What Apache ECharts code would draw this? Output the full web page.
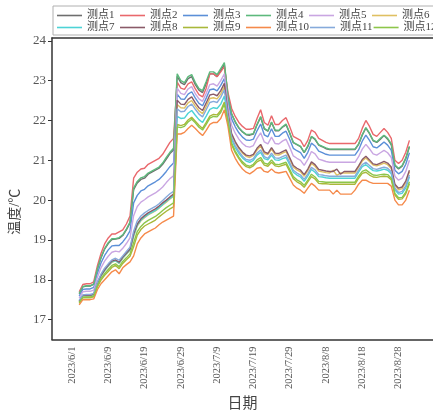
<!DOCTYPE html>
<html>
<head>
<meta charset="utf-8">
<script src="https://cdn.jsdelivr.net/npm/echarts@6/dist/echarts.min.js"></script>
<style>
html, body { margin: 0; padding: 0; background: #fff; }
#chart { width: 433px; height: 417px; }
</style>
</head>
<body>
<div id="chart"></div>
<script>
// x axis: one category per reading, date label every 10th
var tickLabels = ['2023/6/1', '2023/6/9', '2023/6/19', '2023/6/29', '2023/7/9',
                  '2023/7/19', '2023/7/29', '2023/8/8', '2023/8/18', '2023/8/28'];
var firstTick = 5;
var tickStep = 10;
var nCat = 105;
var dataStart = 7;
var yTicks = [17, 18, 19, 20, 21, 22, 23, 24];

var names = ['测点1', '测点2', '测点3', '测点4', '测点5', '测点6',
             '测点7', '测点8', '测点9', '测点10', '测点11', '测点12'];
var colors = ['#6e6e6e', '#e9686c', '#5b8fd8', '#5db97c', '#c9a6e2', '#dfc062',
              '#4dd3d6', '#8a5a68', '#a9b83a', '#f58a4b', '#86aadb', '#8dc64a'];

var s1 = [17.65,17.82,17.84,17.84,17.89,18.26,18.55,18.77,18.91,19.01,19.02,19.04,19.11,19.25,19.43,20.26,20.43,20.52,20.55,20.65,20.70,20.75,20.80,20.90,21.03,21.17,21.26,
  23.11,22.95,22.90,23.05,23.10,22.90,22.76,22.70,22.93,23.17,23.17,23.10,23.25,23.40,
  22.59,22.16,21.96,21.81,21.71,21.64,21.63,21.66,21.89,22.08,21.79,21.73,21.95,21.74,21.74,21.83,21.89,21.68,21.44,21.39,21.34,21.19,21.34,21.59,21.52,21.38,21.34,21.29,
  21.27,21.27,21.27,21.27,21.27,21.27,21.27,21.27,21.40,21.63,21.81,21.67,21.49,21.45,21.53,21.62,21.53,21.39,20.87,20.78,20.85,21.04,21.34];
var s2 = [17.70,17.88,17.90,17.90,17.95,18.35,18.66,18.90,19.05,19.15,19.15,19.20,19.25,19.40,19.60,20.55,20.70,20.78,20.80,20.90,20.95,21.00,21.05,21.15,21.30,21.45,21.55,
  22.96,22.81,22.78,22.92,22.97,22.79,22.65,22.59,22.81,23.17,23.17,23.10,23.22,23.35,
  22.70,22.30,22.10,21.95,21.85,21.78,21.78,21.80,22.05,22.27,21.95,21.88,22.12,21.90,21.90,22.00,22.07,21.85,21.60,21.55,21.50,21.34,21.50,21.76,21.70,21.55,21.50,21.45,
  21.42,21.42,21.42,21.42,21.42,21.42,21.42,21.42,21.55,21.80,22.00,21.85,21.65,21.60,21.70,21.80,21.70,21.55,21.00,20.92,21.00,21.20,21.50];
var s3 = [17.59,17.76,17.77,17.77,17.81,18.16,18.42,18.61,18.75,18.85,18.86,18.86,18.95,19.07,19.23,19.93,20.12,20.23,20.27,20.36,20.41,20.46,20.52,20.61,20.72,20.84,20.93,
  22.66,22.54,22.53,22.66,22.72,22.56,22.43,22.37,22.56,22.77,22.79,22.74,22.88,23.05,
  22.49,22.04,21.84,21.69,21.58,21.51,21.50,21.53,21.74,21.91,21.64,21.59,21.79,21.60,21.60,21.68,21.73,21.53,21.30,21.24,21.19,21.05,21.20,21.43,21.36,21.23,21.19,21.15,
  21.13,21.13,21.13,21.13,21.13,21.13,21.13,21.13,21.26,21.48,21.63,21.50,21.34,21.31,21.38,21.46,21.38,21.25,20.75,20.66,20.72,20.90,21.19];
var s4 = [17.66,17.83,17.85,17.85,17.89,18.27,18.56,18.78,18.93,19.03,19.03,19.06,19.13,19.27,19.45,20.30,20.47,20.56,20.59,20.68,20.73,20.78,20.83,20.93,21.07,21.20,21.30,
  23.17,23.00,22.95,23.10,23.15,22.95,22.80,22.75,22.98,23.22,23.22,23.15,23.30,23.45,
  22.60,22.17,21.97,21.82,21.72,21.65,21.65,21.67,21.90,22.10,21.80,21.74,21.96,21.76,21.75,21.84,21.91,21.69,21.45,21.40,21.35,21.20,21.36,21.60,21.54,21.39,21.35,21.31,
  21.28,21.28,21.28,21.28,21.28,21.28,21.28,21.28,21.41,21.64,21.82,21.68,21.50,21.46,21.55,21.63,21.55,21.41,20.88,20.80,20.87,21.06,21.35];
var s5 = [17.54,17.70,17.71,17.71,17.74,18.06,18.30,18.47,18.59,18.69,18.72,18.70,18.79,18.91,19.05,19.61,19.84,19.95,20.01,20.08,20.13,20.18,20.25,20.33,20.44,20.54,20.61,
  22.81,22.68,22.65,22.79,22.85,22.67,22.54,22.48,22.68,22.90,22.92,22.86,23.00,23.17,
  22.36,21.88,21.68,21.53,21.42,21.35,21.33,21.37,21.55,21.69,21.46,21.41,21.58,21.42,21.41,21.48,21.53,21.33,21.11,21.05,21.00,20.87,21.02,21.22,21.16,21.03,21.00,20.97,
  20.95,20.95,20.95,20.95,20.95,20.95,20.95,20.95,21.09,21.28,21.40,21.29,21.16,21.13,21.19,21.25,21.19,21.07,20.60,20.50,20.55,20.72,21.00];
var s6 = [17.45,17.60,17.60,17.60,17.63,17.90,18.09,18.23,18.34,18.44,18.48,18.41,18.54,18.64,18.74,19.09,19.35,19.48,19.56,19.63,19.68,19.73,19.80,19.88,19.95,20.03,20.09,
  22.40,22.32,22.31,22.44,22.50,22.36,22.24,22.17,22.35,22.55,22.57,22.54,22.66,22.85,
  22.16,21.64,21.44,21.29,21.18,21.10,21.07,21.12,21.26,21.36,21.17,21.14,21.28,21.14,21.13,21.18,21.22,21.03,20.83,20.76,20.71,20.60,20.74,20.92,20.85,20.73,20.71,20.69,
  20.68,20.75,20.62,20.68,20.68,20.68,20.68,20.68,20.83,20.98,21.06,20.97,20.88,20.86,20.89,20.93,20.89,20.79,20.37,20.26,20.29,20.44,20.71];
var s7 = [17.46,17.60,17.60,17.60,17.63,17.91,18.10,18.23,18.35,18.45,18.48,18.42,18.55,18.65,18.75,19.11,19.37,19.50,19.58,19.64,19.69,19.74,19.81,19.89,19.97,20.04,20.11,
  22.10,22.05,22.06,22.18,22.25,22.13,22.02,21.95,22.11,22.28,22.32,22.30,22.41,22.61,
  22.07,21.52,21.32,21.17,21.06,20.98,20.95,21.00,21.13,21.20,21.04,21.01,21.13,21.01,21.00,21.04,21.07,20.89,20.70,20.63,20.58,20.47,20.61,20.77,20.70,20.59,20.58,20.56,
  20.55,20.55,20.55,20.55,20.55,20.55,20.55,20.55,20.70,20.84,20.89,20.81,20.74,20.73,20.75,20.78,20.75,20.66,20.26,20.15,20.17,20.31,20.58];
var s8 = [17.46,17.61,17.61,17.61,17.64,17.92,18.11,18.25,18.37,18.47,18.50,18.44,18.57,18.67,18.77,19.15,19.40,19.53,19.61,19.68,19.73,19.78,19.85,19.93,20.00,20.08,20.15,
  22.51,22.41,22.40,22.53,22.59,22.44,22.32,22.25,22.44,22.64,22.66,22.62,22.75,22.93,
  22.19,21.67,21.47,21.32,21.21,21.13,21.11,21.15,21.30,21.40,21.21,21.17,21.32,21.18,21.17,21.22,21.26,21.07,20.87,20.80,20.75,20.64,20.78,20.96,20.89,20.77,20.75,20.73,
  20.72,20.72,20.78,20.65,20.72,20.72,20.72,20.72,20.86,21.02,21.10,21.01,20.91,20.89,20.93,20.97,20.93,20.83,20.40,20.30,20.33,20.48,20.75];
var s9 = [17.41,17.55,17.55,17.55,17.57,17.82,17.99,18.11,18.21,18.31,18.36,18.28,18.41,18.50,18.59,18.83,19.12,19.26,19.35,19.40,19.45,19.50,19.58,19.65,19.72,19.78,19.83,
  21.90,21.87,21.90,22.01,22.08,21.98,21.88,21.80,21.95,22.11,22.15,22.14,22.25,22.46,
  21.96,21.39,21.19,21.04,20.92,20.84,20.81,20.86,20.96,21.01,20.88,20.85,20.95,20.86,20.84,20.87,20.90,20.72,20.54,20.46,20.41,20.32,20.46,20.59,20.53,20.42,20.41,20.41,
  20.40,20.40,20.40,20.40,20.40,20.40,20.40,20.40,20.55,20.67,20.70,20.63,20.58,20.57,20.59,20.60,20.59,20.51,20.13,20.02,20.03,20.16,20.41];
var s10 = [17.37,17.50,17.50,17.50,17.52,17.75,17.90,18.00,18.10,18.20,18.25,18.15,18.30,18.38,18.45,18.60,18.90,19.05,19.15,19.20,19.25,19.30,19.38,19.45,19.50,19.55,19.60,
  21.66,21.66,21.70,21.80,21.88,21.80,21.70,21.62,21.75,21.90,21.95,21.95,22.05,22.27,
  21.85,21.25,21.05,20.90,20.78,20.70,20.66,20.72,20.80,20.82,20.72,20.70,20.78,20.70,20.68,20.70,20.72,20.55,20.38,20.30,20.25,20.17,20.30,20.42,20.35,20.25,20.25,20.25,
  20.25,20.15,20.25,20.15,20.15,20.15,20.15,20.25,20.40,20.50,20.50,20.45,20.42,20.42,20.42,20.42,20.42,20.35,20.00,19.88,19.88,20.00,20.25];
var s11 = [17.48,17.62,17.63,17.63,17.66,17.94,18.14,18.29,18.40,18.50,18.54,18.49,18.60,18.71,18.82,19.22,19.48,19.60,19.68,19.74,19.79,19.84,19.91,19.99,20.08,20.16,20.22,
  22.29,22.22,22.23,22.35,22.41,22.28,22.16,22.09,22.27,22.45,22.48,22.45,22.58,22.77,
  22.11,21.57,21.37,21.22,21.10,21.02,21.00,21.04,21.18,21.26,21.09,21.05,21.18,21.06,21.05,21.09,21.13,20.94,20.75,20.68,20.63,20.52,20.66,20.82,20.76,20.64,20.63,20.61,
  20.60,20.60,20.60,20.60,20.60,20.60,20.60,20.60,20.75,20.89,20.95,20.87,20.79,20.77,20.80,20.83,20.80,20.71,20.30,20.19,20.22,20.36,20.63];
var s12 = [17.43,17.56,17.57,17.57,17.59,17.85,18.03,18.15,18.26,18.36,18.40,18.33,18.46,18.55,18.65,18.93,19.21,19.34,19.43,19.49,19.54,19.59,19.66,19.74,19.81,19.87,19.93,
  21.84,21.82,21.85,21.96,22.03,21.94,21.83,21.76,21.90,22.06,22.10,22.09,22.20,22.41,
  21.99,21.43,21.23,21.08,20.96,20.88,20.85,20.90,21.01,21.07,20.93,20.90,21.01,20.90,20.89,20.92,20.95,20.77,20.59,20.51,20.46,20.37,20.50,20.65,20.58,20.47,20.46,20.45,
  20.45,20.45,20.45,20.45,20.45,20.45,20.45,20.45,20.60,20.72,20.76,20.69,20.63,20.62,20.64,20.65,20.64,20.55,20.17,20.06,20.07,20.20,20.46];

var allData = [s1, s2, s3, s4, s5, s6, s7, s8, s9, s10, s11, s12];
var serif = '"Liberation Serif", "Noto Sans CJK SC", serif';

var categories = [];
for (var i = 0; i < nCat; i++) categories.push(String(i));

function isTick(idx) {
  return idx >= firstTick && (idx - firstTick) % tickStep === 0;
}

var series = allData.map(function (vals, k) {
  var pad = [];
  for (var j = 0; j < dataStart; j++) pad.push('-');
  return {
    name: names[k],
    type: 'line',
    symbol: 'none',
    data: pad.concat(vals),
    lineStyle: { width: 1.4, color: colors[k] },
    itemStyle: { color: colors[k] }
  };
});

var chart = echarts.init(document.getElementById('chart'));
chart.setOption({
  animation: false,
  backgroundColor: '#fff',
  grid: { left: 52, top: 38, bottom: 69, right: 0 },
  legend: {
    data: names,
    left: 53, top: 6, width: 410,
    padding: [4, 4, 2, 4],
    icon: 'rect',
    itemWidth: 25, itemHeight: 1.6, itemGap: 1,
    borderColor: '#b0b0b0', borderWidth: 1, borderRadius: 0,
    textStyle: { fontFamily: serif, fontSize: 11, color: '#444', width: 32, lineHeight: 11, overflow: 'none' }
  },
  xAxis: [{
    type: 'category',
    data: categories,
    boundaryGap: true,
    name: '日期',
    nameLocation: 'middle',
    nameGap: 55,
    nameTextStyle: { fontFamily: serif, fontSize: 15, color: '#444' },
    axisLine: { lineStyle: { color: '#333', width: 1.5 } },
    axisTick: { alignWithLabel: true, interval: function (idx) { return isTick(idx); }, length: 5, lineStyle: { color: '#333' } },
    axisLabel: {
      interval: function (idx) { return isTick(idx); },
      formatter: function (v, idx) { return tickLabels[(idx - firstTick) / tickStep]; },
      rotate: 90, fontFamily: serif, fontSize: 10.5, color: '#555', margin: 7
    },
    splitLine: { show: false }
  }, {
    type: 'category',
    data: categories,
    position: 'top',
    axisLine: { show: true, lineStyle: { color: '#333', width: 1.5 } },
    axisTick: { show: false },
    axisLabel: { show: false },
    splitLine: { show: false }
  }],
  yAxis: {
    type: 'value',
    min: 16.5, max: 24.07,
    name: '温度/℃',
    nameLocation: 'middle',
    nameGap: 20,
    nameTextStyle: { fontFamily: serif, fontSize: 14, color: '#444', padding: [0, 46, 0, 0] },
    axisLine: { show: true, lineStyle: { color: '#333', width: 1.5 } },
    axisTick: { show: true, customValues: yTicks, length: 4, lineStyle: { color: '#333' } },
    axisLabel: { customValues: yTicks, fontFamily: serif, fontSize: 13, color: '#555', margin: 6 },
    splitLine: { show: false }
  },
  series: series
});
</script>
</body>
</html>
